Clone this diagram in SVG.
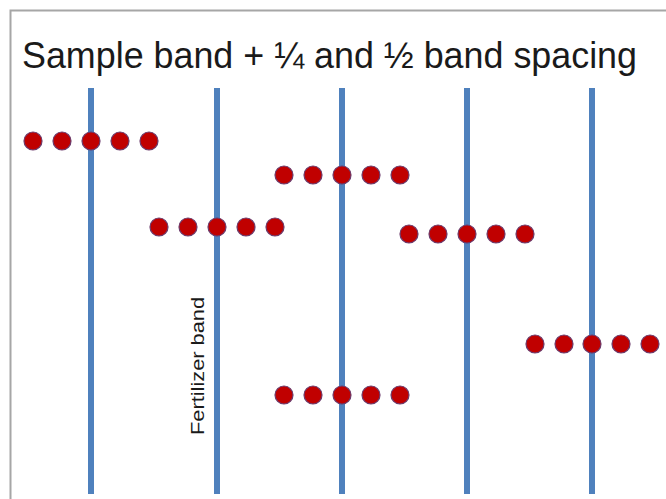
<svg xmlns="http://www.w3.org/2000/svg" width="666" height="499" viewBox="0 0 666 499">
<defs>
<style>
.band{stroke:#4F81BD;stroke-width:6;fill:none}
.dot{fill:#C00000;stroke:#6B3A6B;stroke-width:1.2}
.title{font-family:"Liberation Sans",Arial,sans-serif;font-size:36px;fill:#1a1a1a}
.lbl{font-family:"Liberation Sans",Arial,sans-serif;font-size:18px;fill:#1a1a1a}
</style>
<circle id="d" class="dot" r="9"/>
</defs>
<rect width="666" height="499" fill="#fff"/>
<rect x="10.5" y="10.5" width="700" height="520" fill="#fff" stroke="#a6a6a6" stroke-width="2"/>
<text class="title" x="22" y="68" textLength="615" lengthAdjust="spacingAndGlyphs">Sample band + ¼ and ½ band spacing</text>
<g id="connectors">
<line class="band" x1="91" y1="88" x2="91" y2="494"/>
<line class="band" x1="217" y1="88" x2="217" y2="494"/>
<line class="band" x1="342" y1="88" x2="342" y2="494"/>
<line class="band" x1="467" y1="88" x2="467" y2="494"/>
<line class="band" x1="592" y1="88" x2="592" y2="494"/>
</g>
<text class="lbl" transform="translate(204,435) rotate(-90)" textLength="138" lengthAdjust="spacingAndGlyphs">Fertilizer band</text>
<g id="row1"><use href="#d" x="33" y="141"/><use href="#d" x="62" y="141"/><use href="#d" x="91" y="141"/><use href="#d" x="120" y="141"/><use href="#d" x="149" y="141"/></g>
<g id="row2"><use href="#d" x="284" y="175"/><use href="#d" x="313" y="175"/><use href="#d" x="342" y="175"/><use href="#d" x="371" y="175"/><use href="#d" x="400" y="175"/></g>
<g id="row3"><use href="#d" x="159" y="227"/><use href="#d" x="188" y="227"/><use href="#d" x="217" y="227"/><use href="#d" x="246" y="227"/><use href="#d" x="275" y="227"/></g>
<g id="row4"><use href="#d" x="409" y="234"/><use href="#d" x="438" y="234"/><use href="#d" x="467" y="234"/><use href="#d" x="496" y="234"/><use href="#d" x="525" y="234"/></g>
<g id="row5"><use href="#d" x="535" y="344"/><use href="#d" x="564" y="344"/><use href="#d" x="592" y="344"/><use href="#d" x="621" y="344"/><use href="#d" x="650" y="344"/></g>
<g id="row6"><use href="#d" x="284" y="395"/><use href="#d" x="313" y="395"/><use href="#d" x="342" y="395"/><use href="#d" x="371" y="395"/><use href="#d" x="400" y="395"/></g>
</svg>
